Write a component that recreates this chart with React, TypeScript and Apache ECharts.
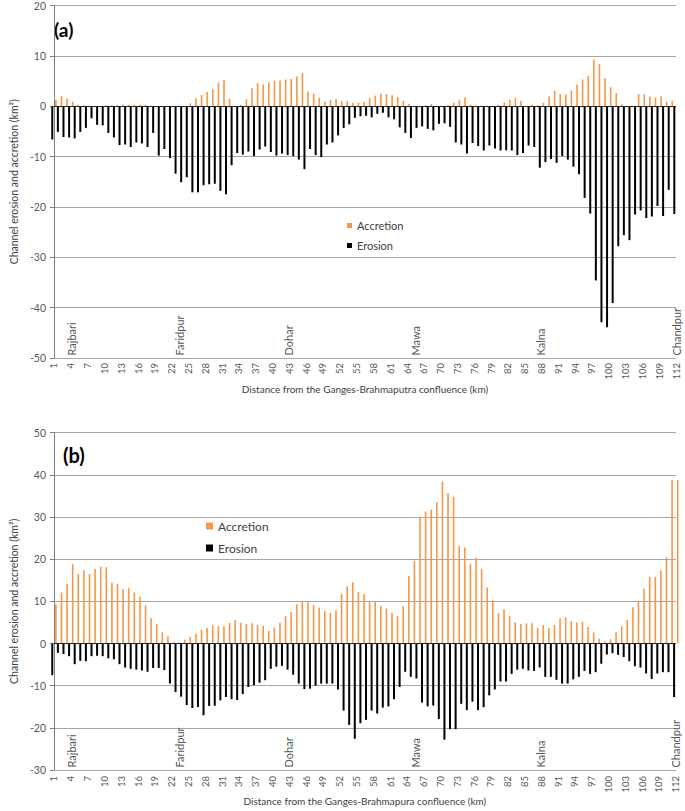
import React, { useEffect, useRef } from "react";
import * as echarts from "echarts";

const categories: string[] = Array.from({ length: 112 }, (_, i) => String(i + 1));

const accretionA = [
  1.3, 2.0, 1.5, 0.9, 0.3, 0.2, 0.05, 0, 0, 0.2,
  0.2, 0.25, 0.3, 0.3, 0.3, 0.3, 0.3, 0, 0, 0,
  0, 0, 0, 0, 0.6, 1.6, 2.2, 2.8, 3.4, 4.7,
  5.2, 1.5, 0, 0.3, 1.4, 3.6, 4.6, 4.3, 4.7, 5.1,
  5.1, 5.3, 5.4, 5.9, 6.6, 2.9, 2.5, 1.7, 0.9, 1.25,
  1.45, 1.0, 1.0, 0.7, 0.7, 0.9, 1.6, 2.1, 2.5, 2.4,
  2.2, 1.8, 1.1, 0.5, 0, 0, 0.2, 0.4, 0.1, 0.1,
  0.3, 0.7, 1.3, 1.8, 0.3, 0.1, 0.1, 0.1, 0.1, 0.3,
  0.7, 1.3, 1.6, 1.1, 0, 0.3, 0.2, 0.65, 2.0, 3.1,
  2.4, 2.3, 3.1, 4.3, 5.3, 6.0, 9.3, 8.4, 5.6, 3.75,
  2.6, 0.4, 0.1, 0, 2.4, 2.4, 1.9, 1.7, 2.0, 0.9,
  1.1, 0,
];

const erosionA = [
  -6.6, -5.1, -6.1, -6.2, -6.4, -5.1, -4.3, -2.4, -3.7, -3.8,
  -5.3, -6.2, -7.7, -7.6, -8.1, -7.2, -7.4, -8.1, -5.3, -9.8,
  -8.5, -10.3, -13.4, -15.1, -14.1, -17.1, -17.1, -15.7, -15.5, -15.4,
  -16.8, -17.5, -11.7, -9.3, -9.6, -9.0, -9.9, -8.6, -8.0, -9.1,
  -9.8, -9.4, -9.7, -9.9, -10.6, -12.5, -8.5, -9.7, -10.1, -7.6,
  -7.2, -5.8, -4.3, -3.6, -2.3, -2.0, -1.9, -2.2, -1.5, -1.3,
  -2.2, -2.6, -4.2, -5.3, -6.3, -4.3, -4.0, -4.5, -4.8, -3.5,
  -3.4, -4.1, -7.2, -7.6, -9.4, -7.3, -7.9, -8.8, -7.8, -8.4,
  -8.8, -8.75, -8.8, -9.7, -9.3, -7.8, -8.1, -12.2, -11.1, -10.5,
  -11.25, -9.9, -10.6, -12.0, -13.5, -18.2, -21.3, -34.6, -42.9, -43.9,
  -39.1, -27.8, -25.6, -26.6, -21.5, -20.7, -22.2, -21.9, -19.8, -21.8,
  -16.6, -21.4,
];

const accretionB = [
  9.3, 12.1, 14.1, 18.8, 16.5, 17.4, 16.5, 17.7, 18.2, 18.1,
  14.4, 14.1, 12.9, 13.1, 12.1, 11.1, 9.0, 6.0, 4.6, 2.65,
  1.7, 0.3, 0.3, 0.9, 1.5, 2.4, 3.3, 3.7, 4.4, 4.2,
  4.1, 4.9, 5.6, 4.9, 4.6, 4.8, 4.4, 4.2, 3.0, 3.8,
  4.9, 6.5, 7.5, 9.3, 9.9, 9.9, 9.1, 8.5, 7.7, 7.3,
  7.9, 11.7, 13.6, 14.5, 12.2, 11.7, 9.8, 9.9, 8.9, 8.3,
  7.3, 6.5, 8.9, 16.0, 19.6, 29.9, 31.3, 31.7, 33.5, 38.4,
  35.7, 34.8, 23.1, 22.8, 18.9, 20.4, 17.7, 13.3, 10.2, 7.2,
  8.1, 6.5, 5.0, 4.6, 4.8, 4.8, 3.7, 4.4, 3.7, 4.4,
  6.0, 6.2, 5.3, 5.0, 5.2, 3.9, 2.65, 1.15, 0.5, 1.0,
  2.65, 4.1, 5.6, 8.6, 9.9, 13.0, 15.8, 15.8, 17.4, 20.4,
  38.8, 38.8,
];

const erosionB = [
  -7.5, -2.2, -2.5, -3.0, -4.9, -4.1, -4.2, -3.0, -2.9, -3.0,
  -3.5, -3.75, -4.9, -5.7, -6.0, -6.2, -6.4, -6.7, -5.8, -5.8,
  -6.3, -9.5, -11.5, -12.6, -14.6, -15.3, -15.1, -17.0, -14.8, -14.75,
  -13.5, -12.7, -13.2, -13.4, -12.0, -10.3, -9.9, -9.3, -8.7, -6.0,
  -5.5, -5.3, -6.2, -7.4, -9.5, -10.8, -10.7, -10.0, -9.5, -9.5,
  -9.5, -10.9, -15.9, -19.3, -22.6, -18.9, -18.1, -15.9, -16.6, -15.2,
  -14.9, -13.2, -10.3, -6.7, -7.9, -8.3, -14.0, -14.9, -14.7, -17.9,
  -22.8, -20.3, -20.3, -14.3, -15.8, -13.8, -15.8, -15.1, -12.3, -10.9,
  -9.0, -9.0, -7.2, -6.2, -6.0, -6.4, -6.5, -5.7, -7.9, -7.9,
  -8.6, -9.5, -9.5, -8.5, -7.9, -6.5, -7.2, -6.8, -4.8, -2.6,
  -2.3, -2.7, -3.2, -4.2, -5.4, -5.7, -7.1, -8.4, -7.1, -6.8,
  -6.8, -12.7,
];

const towns = ["Rajbari", "Faridpur", "Dohar", "Mawa", "Kalna", "Chandpur"];
const townKm = [4.2, 23.4, 42.8, 65.5, 87.8, 112];

const yTitle = "Channel erosion and accretion (km\u00B2)";
const xTitleA = "Distance from the Ganges-Brahmaputra confluence (km)";
const xTitleB = "Distance from the Ganges-Brahmapura confluence (km)";

const FONT = 'Lato, "Liberation Sans", sans-serif';
const ORANGE = "#F79646";
const BLACK = "#000000";
const GRID_COLOR = "#a6a6a6";
const LABEL_COLOR = "#595959";

function catAxis(gridIndex: number, margin: number, name: string, nameGap: number) {
  return {
    type: "category",
    gridIndex,
    data: categories,
    boundaryGap: false,
    axisLine: { show: true, onZero: false, lineStyle: { color: GRID_COLOR, width: 1 } },
    axisTick: { show: false },
    axisLabel: {
      interval: 2,
      rotate: 90,
      margin,
      fontSize: 9.5,
      color: LABEL_COLOR,
      fontFamily: FONT,
    },
    splitLine: { show: false },
    name,
    nameLocation: "middle",
    nameGap,
    nameTextStyle: { fontSize: 10, color: "#404040", fontFamily: FONT },
  };
}

function valAxis(gridIndex: number, min: number, max: number, nameGap: number) {
  return {
    type: "value",
    gridIndex,
    min,
    max,
    interval: 10,
    axisLine: { show: true, lineStyle: { color: "#7f7f7f", width: 1 } },
    axisTick: { show: true, length: 4, lineStyle: { color: "#7f7f7f" } },
    axisLabel: { margin: 8, fontSize: 10.5, color: LABEL_COLOR, fontFamily: FONT },
    splitLine: { show: true, lineStyle: { color: GRID_COLOR, width: 1 } },
    name: yTitle,
    nameLocation: "middle",
    nameGap,
    nameTextStyle: { fontSize: 10.5, color: "#404040", fontFamily: FONT },
  };
}

function hiddenPosAxis(gridIndex: number) {
  return { type: "value", gridIndex, min: 1, max: 112, show: false };
}

function barPair(xIdx: number, yIdx: number, acc: number[], ero: number[]) {
  return [
    {
      name: "Erosion",
      type: "bar",
      xAxisIndex: xIdx,
      yAxisIndex: yIdx,
      data: ero,
      barWidth: 2,
      barGap: "90%",
      clip: false,
      itemStyle: { color: BLACK },
    },
    {
      name: "Accretion",
      type: "bar",
      xAxisIndex: xIdx,
      yAxisIndex: yIdx,
      data: acc,
      barWidth: 1.6,
      barGap: "90%",
      clip: false,
      itemStyle: { color: ORANGE },
      markLine: {
        silent: true,
        symbol: "none",
        label: { show: false },
        lineStyle: { color: "#262626", width: 1, type: "solid" },
        data: [{ yAxis: 0 }],
      },
    },
  ];
}

function townSeries(xIdx: number, yIdx: number, base: number) {
  return {
    type: "scatter",
    xAxisIndex: xIdx,
    yAxisIndex: yIdx,
    symbolSize: 0,
    silent: true,
    clip: false,
    data: towns.map((t, i) => ({ name: t, value: [townKm[i], base] })),
    label: {
      show: true,
      formatter: "{b}",
      rotate: 90,
      position: [0, -2.5],
      align: "left",
      verticalAlign: "middle",
      fontSize: 11,
      color: "#262626",
      fontFamily: FONT,
    },
  };
}

export default function App() {
  const ref = useRef<HTMLDivElement>(null);
  useEffect(() => {
    if (!ref.current) return;
    const chart = echarts.init(ref.current, null, { renderer: "svg" });
    const option: any = {
      animation: false,
      backgroundColor: "#ffffff",
      textStyle: { fontFamily: FONT },
      grid: [
        { left: 39.5, top: 5, width: 636.5, height: 353 },
        { left: 43.3, top: 432.7, width: 632.5, height: 337.3 },
      ],
      xAxis: [
        catAxis(0, 5, xTitleA, 26),
        hiddenPosAxis(0),
        catAxis(1, 6, xTitleB, 26),
        hiddenPosAxis(1),
      ],
      yAxis: [valAxis(0, -50, 20, 30), valAxis(1, -30, 50, 33)],
      legend: [
        {
          data: ["Accretion", "Erosion"],
          orient: "vertical",
          left: 342,
          top: 215,
          itemWidth: 5,
          itemHeight: 5,
          itemGap: 9,
          icon: "rect",
          selectedMode: false,
          textStyle: { fontSize: 11, color: "#404040", fontFamily: FONT },
        },
        {
          data: ["Accretion", "Erosion"],
          orient: "vertical",
          left: 201,
          top: 515,
          itemWidth: 7,
          itemHeight: 7,
          itemGap: 10,
          icon: "rect",
          selectedMode: false,
          textStyle: { fontSize: 12, color: "#404040", fontFamily: FONT },
        },
      ],
      graphic: [
        {
          type: "text",
          left: 54,
          top: 20,
          style: { text: "(a)", font: "bold 19px " + FONT, fill: "#000" },
        },
        {
          type: "text",
          left: 63,
          top: 445,
          style: { text: "(b)", font: "bold 20px " + FONT, fill: "#000" },
        },
      ],
      series: [
        ...barPair(0, 0, accretionA, erosionA),
        townSeries(1, 0, -50),
        ...barPair(2, 1, accretionB, erosionB),
        townSeries(3, 1, -30),
      ],
    };
    chart.setOption(option);
    return () => chart.dispose();
  }, []);
  return (
    <div
      ref={ref}
      style={{ position: "fixed", left: 0, top: 0, width: 685, height: 811, background: "#fff" }}
    />
  );
}
